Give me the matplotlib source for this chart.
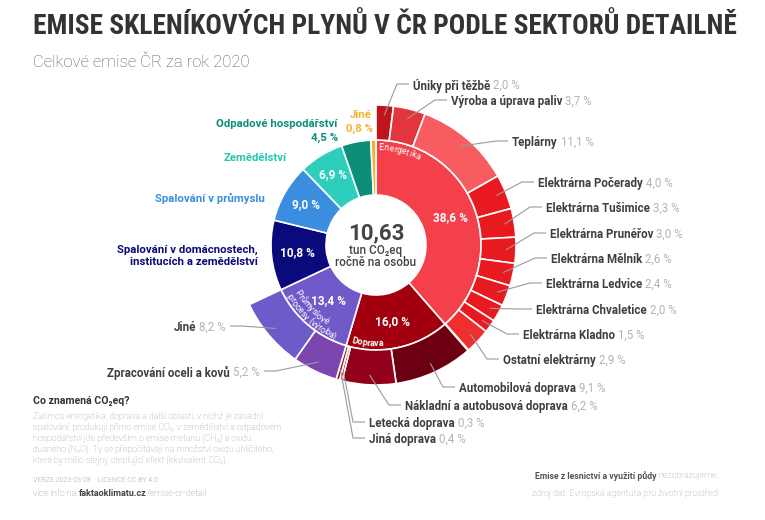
import numpy as np
import matplotlib
matplotlib.use("Agg")
import matplotlib.pyplot as plt
from matplotlib import font_manager
from matplotlib.font_manager import FontProperties

# --- data ---
sector_names = ["Energetika", "Doprava", "Průmyslové procesy (výroba)",
                "Spalování v domácnostech,\ninstitucích a zemědělství",
                "Spalování v průmyslu", "Zemědělství",
                "Odpadové hospodářství", "Jiné"]
sector_values = [38.6, 16.0, 13.4, 10.8, 9.0, 6.9, 4.5, 0.8]
sector_colors = ["#f4404a", "#a3000f", "#7259c9", "#0a0a7c",
                 "#3b8de0", "#2dcfbc", "#0c8e79", "#f3b232"]

energ_names = ["Úniky při těžbě", "Výroba a úprava paliv", "Teplárny",
               "Elektrárna Počerady", "Elektrárna Tušimice", "Elektrárna Prunéřov",
               "Elektrárna Mělník", "Elektrárna Ledvice", "Elektrárna Chvaletice",
               "Elektrárna Kladno", "Ostatní elektrárny"]
energ_values = [2.0, 3.7, 11.1, 4.0, 3.3, 3.0, 2.6, 2.4, 2.0, 1.5, 2.9]
energ_colors = ["#c0141d", "#e2353d", "#f65c60", "#e8191f", "#e8191f", "#e8191f",
                "#e8191f", "#e8191f", "#e8191f", "#e8191f", "#ef2e2f"]

doprava_names = ["Automobilová doprava", "Nákladní a autobusová doprava",
                 "Letecká doprava", "Jiná doprava"]
doprava_values = [9.1, 6.2, 0.3, 0.4]
doprava_colors = ["#6c0011", "#92001a", "#a0101c", "#a0101c"]

prumysl_names = ["Zpracování oceli a kovů", "Jiné"]
prumysl_values = [5.2, 8.2]
prumysl_colors = ["#7c46b1", "#6c5bc9"]

per_capita = 10.63

# --- layout (pixels of the 765x520 picture) ---
W, H = 765, 520
CX, CY = 376, 245
R_IN, R_MID, R_OUT = 50, 105, 140
pct_r = [79, 78, 73, 79, 81, 82]
energ_label_xy = [(413, 84), (451, 100), (512, 141), (538, 182), (546, 207),
                  (550, 233), (551, 258), (546, 283), (536, 309), (523, 334),
                  (503, 359)]
doprava_label_xy = [(459, 387), (405, 405), (369, 422), (369, 438)]
prumysl_label_xy = [(260, 371), (226, 326)]  # right ends

NAME_C = "#3f3f3f"
VAL_C = "#b3b3b3"
FONT = ["Roboto", "DejaVu Sans"]
plt.rcParams["font.family"] = FONT


def fmt(v):
    return f"{v:.1f}".replace(".", ",") + " %"


fig = plt.figure(figsize=(W / 100, H / 100), dpi=100)
ax = fig.add_axes([0, 0, 1, 1])
renderer = fig.canvas.get_renderer()

wedge_kw = dict(edgecolor="white", linewidth=1.2)
ax.pie(sector_values, colors=sector_colors, radius=R_MID, center=(CX, CY),
       startangle=-90, counterclock=True, frame=True,
       wedgeprops=dict(width=R_MID - R_IN, **wedge_kw))

gap = max(sector_values[0] - sum(energ_values), 0)
rest = sum(sector_values[3:])
outer_values = energ_values + [gap] + doprava_values + prumysl_values + [rest]
outer_colors = energ_colors + ["none"] + doprava_colors + prumysl_colors + ["none"]
outer_wedges, _ = ax.pie(outer_values, colors=outer_colors, radius=R_OUT,
                         center=(CX, CY), startangle=-90, counterclock=True,
                         frame=True, wedgeprops=dict(width=R_OUT - R_MID, **wedge_kw))
for w, c in zip(outer_wedges, outer_colors):
    if c == "none":
        w.set_visible(False)

ax.set_xlim(0, W)
ax.set_ylim(H, 0)
ax.set_aspect("auto")
ax.axis("off")


def mids(values):
    v = np.asarray(values, dtype=float)
    cum = np.cumsum(v)
    return (cum - v / 2) / v.sum() * 360.0


def polar(theta, r):
    t = np.radians(theta)
    return CX + r * np.sin(t), CY - r * np.cos(t)


def chain(x, y, parts, ha="left", va="center_baseline"):
    # parts: list of (text, gap_before_px, kwargs)
    if ha == "left":
        for s, g, kw in parts:
            x += g
            t = ax.text(x, y, s, ha="left", va=va, **kw)
            x += t.get_window_extent(renderer).width
    else:
        for i in range(len(parts) - 1, -1, -1):
            s, g, kw = parts[i]
            t = ax.text(x, y, s, ha="right", va=va, **kw)
            x -= t.get_window_extent(renderer).width
            x -= parts[i][1] if i > 0 else 0
    return x


def arc_text(s, theta_c, r, size, weight="normal", outward=True, color="white"):
    prop = FontProperties(family=FONT, size=size, weight=weight)
    total = renderer.get_text_width_height_descent(s, prop, ismath=False)[0]
    for i, ch in enumerate(s):
        if ch == " ":
            continue
        wp = renderer.get_text_width_height_descent(s[:i + 1], prop, ismath=False)[0]
        wc = renderer.get_text_width_height_descent(ch, prop, ismath=False)[0]
        p = wp - wc / 2 - total / 2
        if outward:
            th = theta_c + np.degrees(p / r)
            rot = -th
        else:
            th = theta_c - np.degrees(p / r)
            rot = 180 - th
        x, y = polar(th, r)
        ax.text(x, y, ch, ha="center", va="baseline", rotation=rot,
                rotation_mode="anchor", fontproperties=prop, color=color)


LBL = 8.3
name_kw = dict(fontsize=LBL, fontweight="bold", color=NAME_C)
val_kw = dict(fontsize=LBL, color=VAL_C)
line_kw = dict(color="#9a9a9a", lw=0.8, solid_capstyle="butt")

# percentages inside the inner ring
sec_mid = mids(sector_values)
for v, th, r in zip(sector_values, sec_mid, pct_r):
    x, y = polar(th, r)
    ax.text(x, y, fmt(v), ha="center", va="center", color="white",
            fontsize=8.6, fontweight="bold")

# outer ring labels with leader lines
out_mid = mids(outer_values)
n_e = len(energ_values)
n_d = len(doprava_values)
right_groups = [(energ_names, energ_values, energ_label_xy, out_mid[:n_e]),
                (doprava_names, doprava_values, doprava_label_xy,
                 out_mid[n_e + 1:n_e + 1 + n_d])]
for names, vals, xy, ths in right_groups:
    for nm, v, (lx, ly), th in zip(names, vals, xy, ths):
        px, py = polar(th, 130)
        ax.plot([px, lx - 16, lx - 4], [py, ly, ly], **line_kw)
        chain(lx, ly, [(nm, 0, name_kw), (fmt(v), 3, val_kw)])

p_mid = out_mid[n_e + 1 + n_d:n_e + 1 + n_d + len(prumysl_values)]
for nm, v, (lx, ly), th in zip(prumysl_names, prumysl_values, prumysl_label_xy, p_mid):
    px, py = polar(th, 130)
    ax.plot([px, lx + 16, lx + 4], [py, ly, ly], **line_kw)
    chain(lx, ly, [(nm, 0, name_kw), (fmt(v), 3, val_kw)], ha="right")

# sector labels on the left
cat_kw = dict(fontsize=8.2, fontweight="bold", ha="right", va="center_baseline")
ax.text(337, 123, sector_names[6], color=sector_colors[6], **cat_kw)
ax.text(338, 137, fmt(sector_values[6]), color=sector_colors[6], **cat_kw)
ax.text(372, 114, sector_names[7], color=sector_colors[7], **cat_kw)
ax.text(373, 128, fmt(sector_values[7]), color=sector_colors[7], **cat_kw)
ax.text(287, 157, sector_names[5], color="#27c6b2", **cat_kw)
ax.text(265, 197, sector_names[4], color=sector_colors[4], **cat_kw)
ax.text(258, 254, sector_names[3], color=sector_colors[3], linespacing=1.25, **cat_kw)

# curved sector names
arc_text("Energetika", 14, 95, 6.4, outward=True)
arc_text("Doprava", 185, 101, 6.4, weight="bold", outward=False)
arc_text("Průmyslové", 226, 94, 6.4, outward=False)
arc_text("procesy (výroba)", 222, 103, 6.4, outward=False)

# centre
ax.text(CX, 231, f"{per_capita:.2f}".replace(".", ","), ha="center",
        va="center_baseline", fontsize=16, fontweight="bold", color="#444444")
ax.text(CX, 249, "tun CO₂eq", ha="center", va="center_baseline",
        fontsize=8.4, fontweight="medium", color="#444444")
ax.text(CX, 261, "ročně na osobu", ha="center", va="center_baseline",
        fontsize=8.4, fontweight="medium", color="#444444")

# title
names = {f.name for f in font_manager.fontManager.ttflist}
title_prop = FontProperties(family=["Roboto", "DejaVu Sans"], weight="bold", size=18)
for cand in ["Roboto Condensed", "Liberation Sans Narrow", "Open Sans Condensed"]:
    if cand in names:
        title_prop = FontProperties(family=[cand, "DejaVu Sans"], weight="bold", size=18)
        break
title = ax.text(33, 26, "EMISE SKLENÍKOVÝCH PLYNŮ V ČR PODLE SEKTORŮ DETAILNĚ",
                ha="left", va="center", color="#333333", fontproperties=title_prop)
tw = title.get_window_extent(renderer).width
title.set_fontsize(18 * 702 / tw)

ax.text(33, 62, "Celkové emise ČR za rok 2020", ha="left", va="center",
        fontsize=12, fontweight="light", color="#5a5a5a")

# bottom left explanation
ax.text(33, 401, "Co znamená CO₂eq?", ha="left", va="center", fontsize=7.6,
        fontweight="bold", color="#333333")
para = ["Zatímco energetika, doprava a další oblasti, v nichž je zásadní",
        "spalování, produkují přímo emise CO₂, v zemědělství a odpadovém",
        "hospodářství jde především o emise metanu (CH₄) a oxidu",
        "dusného (N₂O). Ty se přepočítávají na množství oxidu uhličitého,",
        "které by mělo stejný oteplující efekt (ekvivalent CO₂)."]
for i, line in enumerate(para):
    ax.text(33, 416 + 11 * i, line, ha="left", va="center", fontsize=6.35,
            fontweight="light", color="#9a9a9a")
ax.text(33, 481, "VERZE 2023-03-28    LICENCE CC BY 4.0", ha="left", va="center",
        fontsize=5.0, color="#c8c8c8")
small_light = dict(fontsize=6.5, fontweight="light", color="#8a8a8a")
chain(33, 494, [("více info na", 0, small_light),
                ("faktaoklimatu.cz", 2.5, dict(fontsize=6.5, fontweight="bold", color="#444444")),
                ("/emise-cr-detail", 0, small_light)], va="center")

# bottom right notes
chain(719, 476, [("Emise z lesnictví a využití půdy", 0,
                  dict(fontsize=6.3, fontweight="bold", color="#555555")),
                 ("nezobrazujeme.", 2.5, dict(fontsize=6.3, fontweight="light", color="#9a9a9a"))],
      ha="right", va="center")
ax.text(719, 493, "zdroj dat: Evropská agentura pro životní prostředí", ha="right",
        va="center", fontsize=6.5, fontweight="light", color="#9a9a9a")

fig.savefig("out.png", dpi=100, facecolor="white")
